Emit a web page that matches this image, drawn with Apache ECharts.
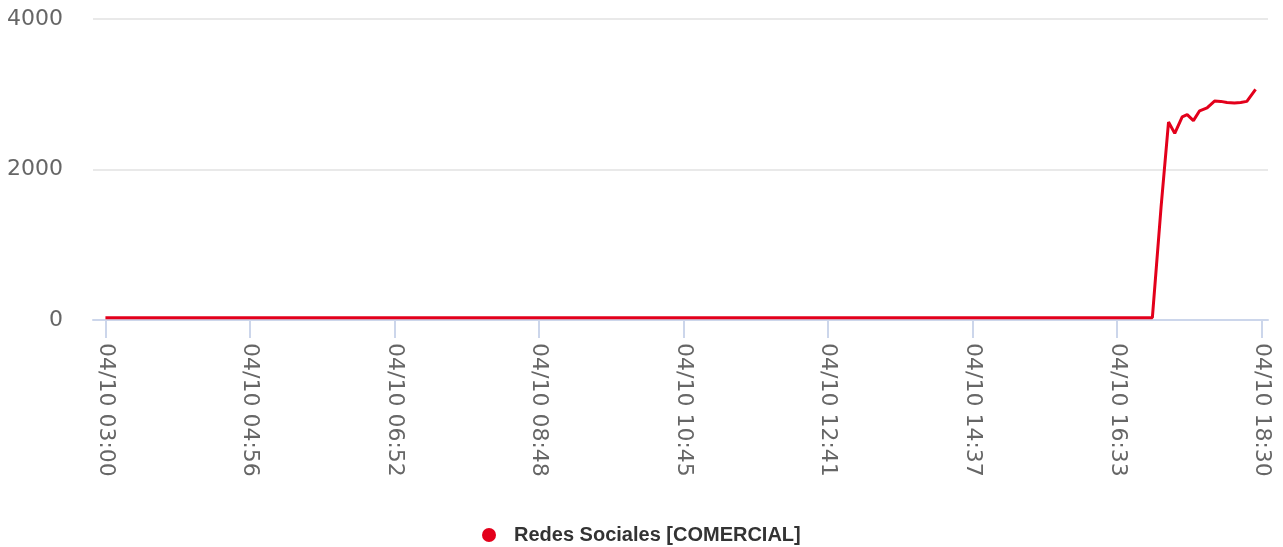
<!DOCTYPE html>
<html>
<head>
<meta charset="utf-8">
<script src="https://cdn.jsdelivr.net/npm/echarts@6/dist/echarts.min.js"></script>
<style>
  html, body { margin: 0; padding: 0; background: #fff; }
  #chart { width: 1283px; height: 547px; }
</style>
</head>
<body>
<div id="chart"></div>
<script>
// x values are minutes after 04/10 03:00
const seriesName = 'Redes Sociales [COMERCIAL]'
const minutes = [0, 120, 240, 360, 480, 600, 720, 842, 849, 855, 860, 866, 870, 875, 880, 886, 892, 897, 902, 908, 913, 918, 925]
const values = [30, 30, 30, 30, 30, 30, 30, 30, 1500, 2630, 2480, 2700, 2730, 2650, 2780, 2820, 2910, 2905, 2890, 2885, 2890, 2905, 3065]

const xTickMinutes = [0, 116.25, 232.5, 348.75, 465, 581.25, 697.5, 813.75, 930]
const xTickLabels = ['04/10 03:00', '04/10 04:56', '04/10 06:52', '04/10 08:48', '04/10 10:45',
  '04/10 12:41', '04/10 14:37', '04/10 16:33', '04/10 18:30']

const red = '#e3001b'
const chart = echarts.init(document.getElementById('chart'), null, { renderer: 'canvas' })

chart.setOption({
  animation: false,
  grid: { left: 93, right: 15, top: 19, bottom: 227, containLabel: false, outerBoundsMode: 'none' },
  legend: {
    data: [seriesName],
    icon: 'circle',
    left: 477,
    top: 520,
    itemWidth: 40,
    itemHeight: 14,
    itemStyle: { borderWidth: 0 },
    textStyle: { color: '#333', fontFamily: 'Liberation Sans', fontWeight: 'bold', fontSize: 20 },
  },
  xAxis: {
    type: 'value',
    min: -10,
    max: 935,
    axisLine: { lineStyle: { color: '#ccd6eb', width: 2 } },
    axisTick: { customValues: xTickMinutes, length: 18, lineStyle: { color: '#ccd6eb', width: 2 } },
    splitLine: { show: false },
    axisLabel: {
      customValues: xTickMinutes,
      rotate: -90,
      margin: 23,
      color: '#666',
      fontFamily: 'DejaVu Sans',
      fontSize: 22,
      formatter: (v) => {
        const i = xTickMinutes.findIndex((m) => Math.abs(m - v) < 0.01)
        return i >= 0 ? xTickLabels[i] : ''
      },
    },
  },
  yAxis: {
    type: 'value',
    min: 0,
    max: 4000,
    interval: 2000,
    axisLine: { show: false },
    axisTick: { show: false },
    splitLine: { lineStyle: { color: '#e9e9e9', width: 2 } },
    axisLabel: {
      color: '#666',
      fontFamily: 'DejaVu Sans',
      fontSize: 22,
      margin: 30,
      padding: [4, 0, 0, 0],
      formatter: (v) => String(v),
    },
  },
  series: [
    {
      name: seriesName,
      type: 'line',
      symbol: 'none',
      color: red,
      lineStyle: { color: red, width: 3 },
      data: minutes.map((m, i) => [m, values[i]]),
    },
  ],
})
</script>
</body>
</html>
